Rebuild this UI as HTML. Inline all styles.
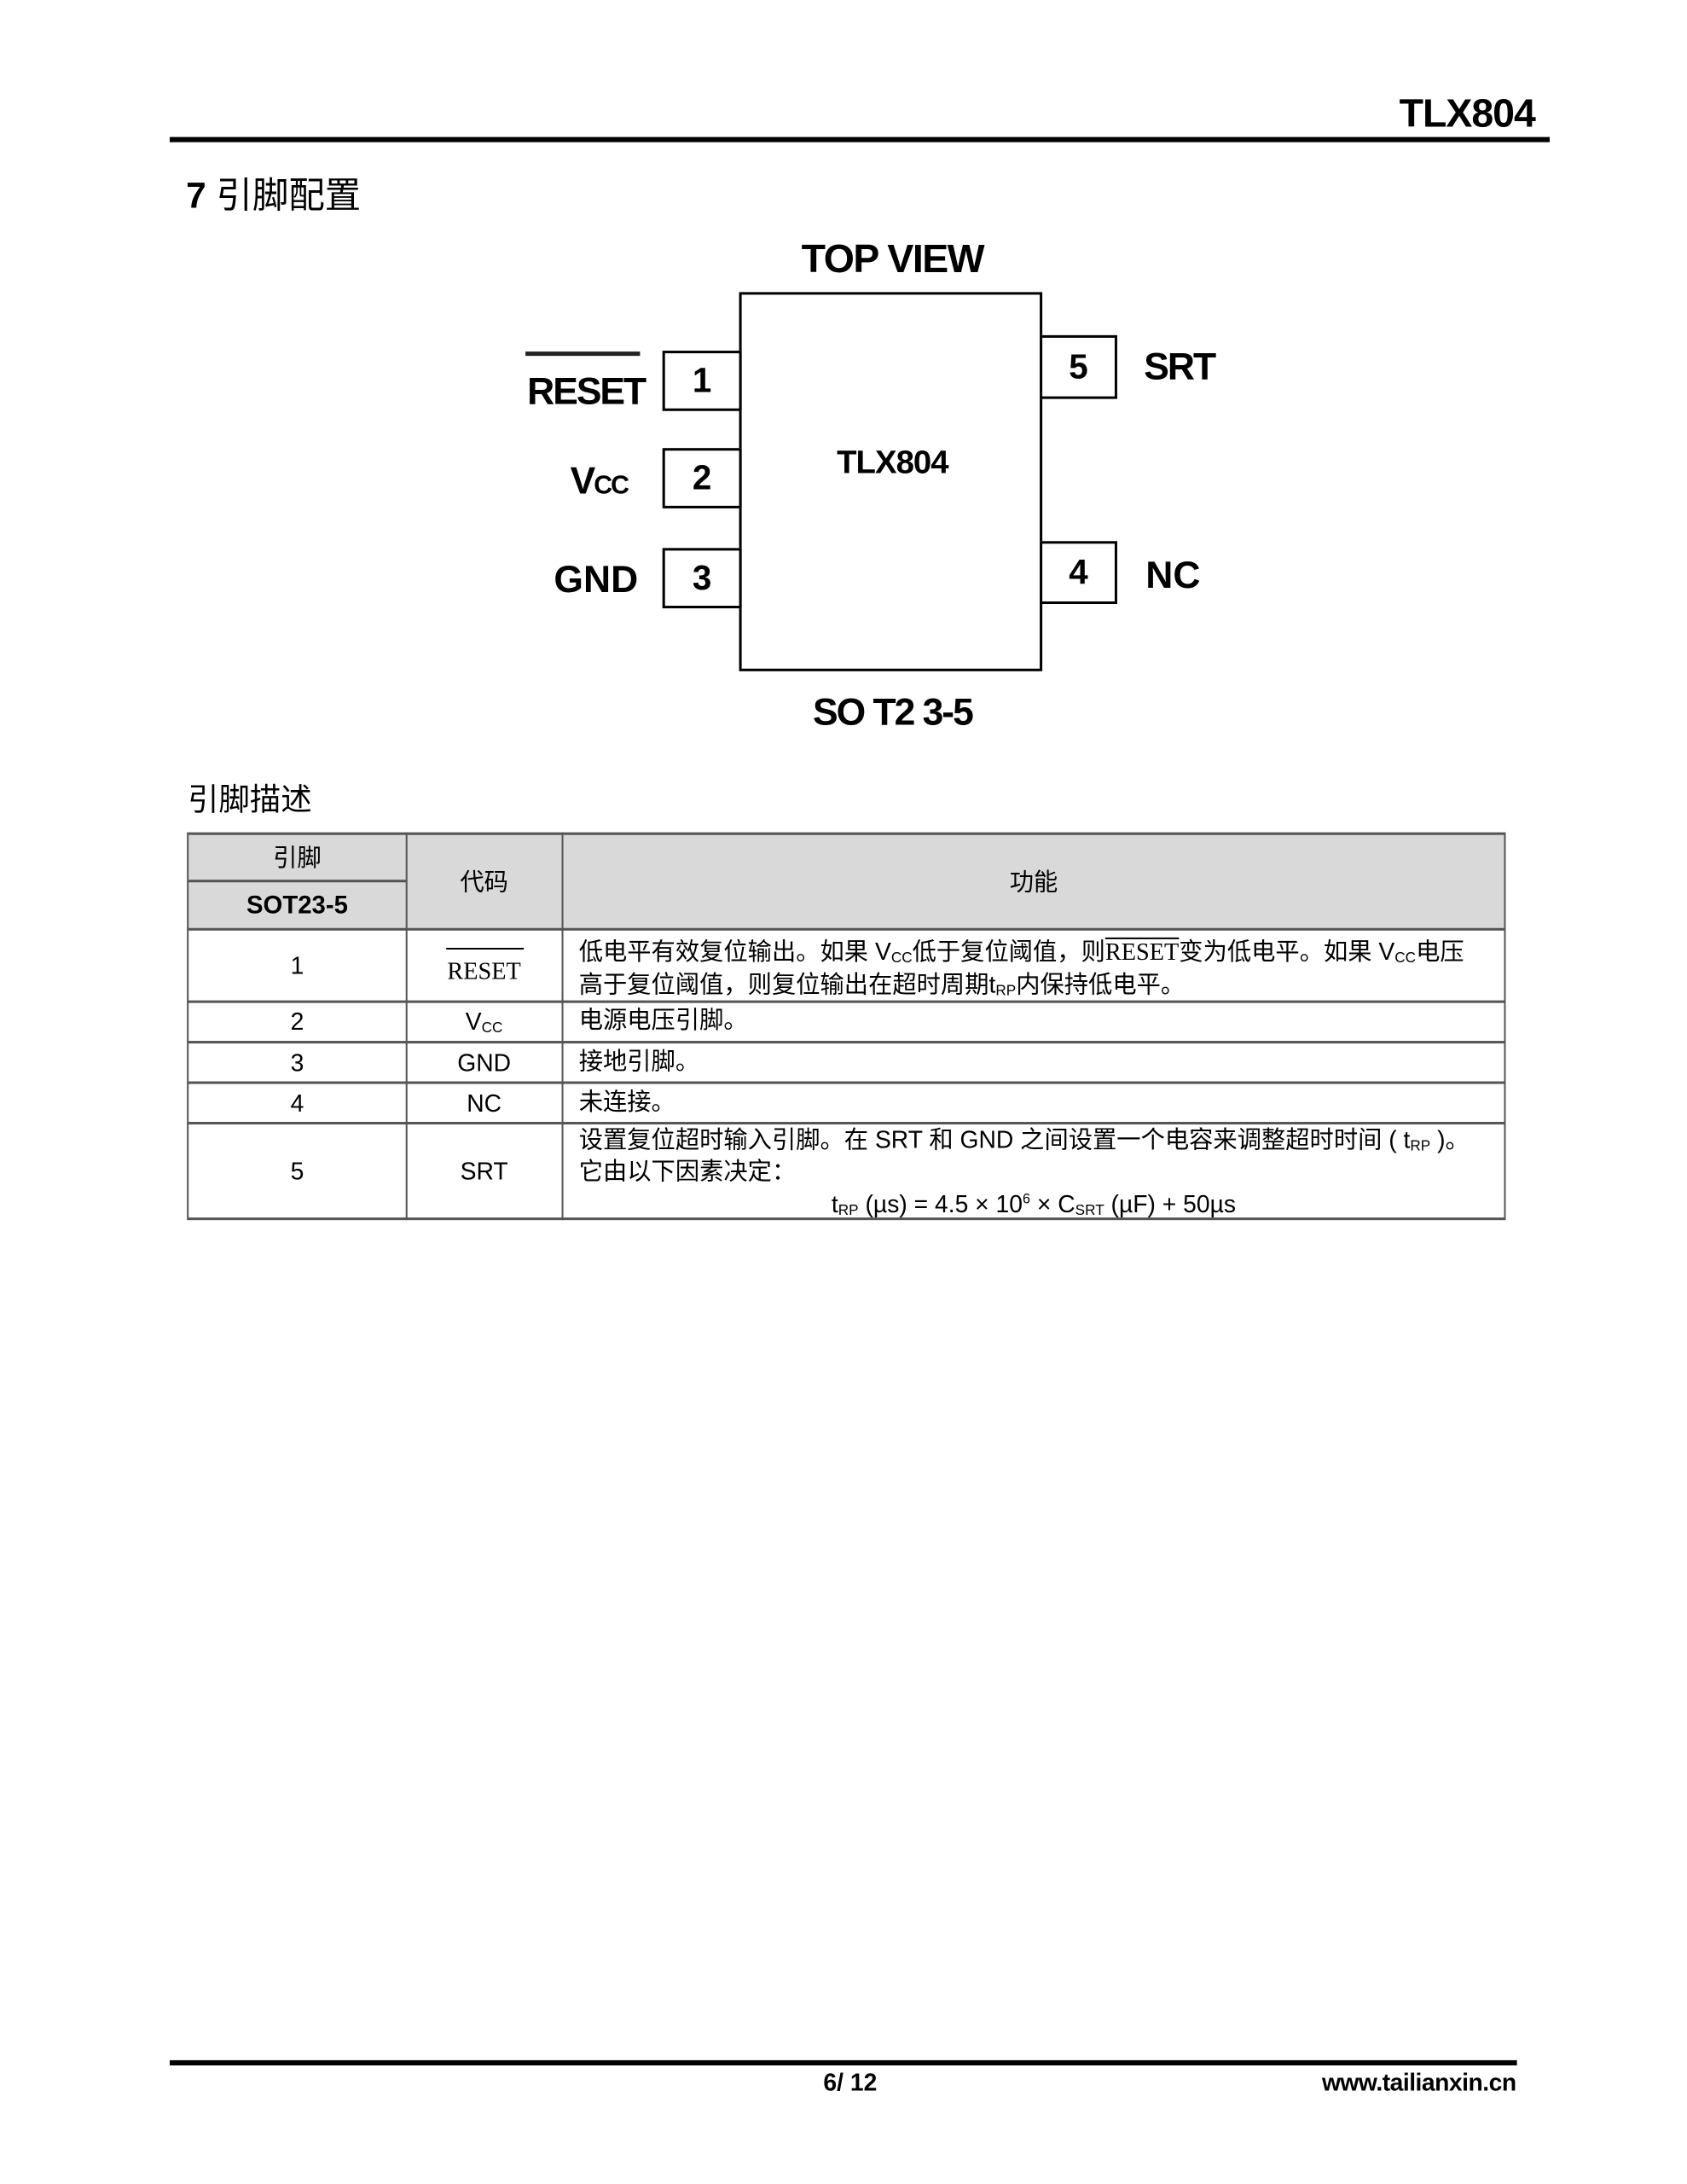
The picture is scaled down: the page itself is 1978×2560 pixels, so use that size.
<!DOCTYPE html>
<html><head><meta charset="utf-8"><style>
body{margin:0;background:#fff;}
#w{position:relative;width:1978px;height:2560px;overflow:hidden;background:#fff;}
#p{position:absolute;left:0;top:0;width:1978px;height:2560px;transform:scale(1.01);transform-origin:0 0;font-family:"Liberation Sans","Noto Sans CJK SC",sans-serif;color:#000;}
.a{position:absolute;white-space:nowrap;}
.b{position:absolute;border:3px solid #000;box-sizing:border-box;background:#fff;}
.pn{font-weight:bold;font-size:40px;display:flex;align-items:center;justify-content:center;}
.lbl{font-weight:bold;font-size:44px;letter-spacing:-2px;line-height:1;}
.tl{position:absolute;background:#555;}
.tx{font-size:28px;line-height:1;font-family:"Liberation Sans","Noto Sans CJK SC",sans-serif;}
.c{transform:translateX(-50%);}
sub{font-size:17px;vertical-align:-3px;}
</style></head><body><div id="w"><div id="p">
<div class="a" style="right:196px;top:108px;font-weight:bold;font-size:46px;letter-spacing:-1px;line-height:1;">TLX804</div>
<div class="a" style="left:197px;top:159px;width:1602px;height:6px;background:#000"></div>
<div class="a" style="left:216px;top:206px;font-size:42px;line-height:1;"><b>7</b> 引脚配置</div>

<div class="a lbl c" style="left:1036px;top:277px;font-size:46px;letter-spacing:-1.5px;">TOP VIEW</div>
<div class="b" style="left:858px;top:339px;width:352px;height:440px;"></div>
<div class="b pn" style="left:769px;top:407px;width:92px;height:70px;">1</div>
<div class="b pn" style="left:769px;top:520px;width:92px;height:70px;">2</div>
<div class="b pn" style="left:769px;top:636px;width:92px;height:70px;">3</div>
<div class="b pn" style="left:1207px;top:389px;width:90px;height:74px;">5</div>
<div class="b pn" style="left:1207px;top:628px;width:90px;height:73px;">4</div>
<div class="a" style="left:610px;top:408px;width:133px;height:5px;background:#222"></div>
<div class="a lbl" style="left:612px;top:433px;">RESET</div>
<div class="a lbl" style="left:662px;top:537px;">V<span style="font-size:30px;">CC</span></div>
<div class="a lbl" style="left:643px;top:651px;letter-spacing:0;">GND</div>
<div class="a lbl" style="left:1328px;top:404px;">SRT</div>
<div class="a lbl" style="left:1330px;top:646px;letter-spacing:0;">NC</div>
<div class="a lbl c" style="left:1036px;top:518px;font-size:38px;letter-spacing:-1px;">TLX804</div>
<div class="a lbl c" style="left:1036px;top:805px;">SO T2 3-5</div>

<div class="a" style="left:218px;top:910px;font-size:36px;line-height:1;">引脚描述</div>

<div class="a" style="left:218px;top:966px;width:1529px;height:112px;background:#d9d9d9"></div>
<div class="tl" style="left:218px;top:966px;width:1529px;height:3px"></div>
<div class="tl" style="left:218px;top:1021px;width:254px;height:3px"></div>
<div class="tl" style="left:218px;top:1077px;width:1529px;height:3px"></div>
<div class="tl" style="left:218px;top:1161px;width:1529px;height:3px"></div>
<div class="tl" style="left:218px;top:1208px;width:1529px;height:3px"></div>
<div class="tl" style="left:218px;top:1255px;width:1529px;height:3px"></div>
<div class="tl" style="left:218px;top:1302px;width:1529px;height:3px"></div>
<div class="tl" style="left:218px;top:1413px;width:1529px;height:3px"></div>
<div class="tl" style="left:217px;top:966px;width:2px;height:450px"></div>
<div class="tl" style="left:471px;top:966px;width:2px;height:450px"></div>
<div class="tl" style="left:652px;top:966px;width:2px;height:450px"></div>
<div class="tl" style="left:1746px;top:966px;width:2px;height:450px"></div>

<div class="a tx c" style="left:345px;top:982px;">引脚</div>
<div class="a tx c" style="left:345px;top:1037px;font-weight:bold;font-size:29px;">SOT23-5</div>
<div class="a tx c" style="left:562px;top:1010px;">代码</div>
<div class="a tx c" style="left:1200px;top:1010px;">功能</div>

<div class="a tx c" style="left:345px;top:1107px;">1</div>
<div class="a" style="left:518px;top:1100px;width:90px;height:2px;background:#000"></div>
<div class="a tx c" style="left:562px;top:1114px;font-family:'Liberation Serif',serif;">RESET</div>
<div class="a tx" style="left:672px;top:1091px;">低电平有效复位输出。如果 V<sub>CC</sub>低于复位阈值，则<span style="text-decoration:overline;font-family:'Liberation Serif',serif;">RESET</span>变为低电平。如果 V<sub>CC</sub>电压</div>
<div class="a tx" style="left:672px;top:1129px;">高于复位阈值，则复位输出在超时周期t<sub>RP</sub>内保持低电平。</div>

<div class="a tx c" style="left:345px;top:1172px;">2</div>
<div class="a tx c" style="left:562px;top:1172px;">V<sub>CC</sub></div>
<div class="a tx" style="left:672px;top:1170px;">电源电压引脚。</div>
<div class="a tx c" style="left:345px;top:1220px;">3</div>
<div class="a tx c" style="left:562px;top:1220px;">GND</div>
<div class="a tx" style="left:672px;top:1218px;">接地引脚。</div>
<div class="a tx c" style="left:345px;top:1267px;">4</div>
<div class="a tx c" style="left:562px;top:1267px;">NC</div>
<div class="a tx" style="left:672px;top:1265px;">未连接。</div>
<div class="a tx c" style="left:345px;top:1346px;">5</div>
<div class="a tx c" style="left:562px;top:1346px;">SRT</div>
<div class="a tx" style="left:672px;top:1309px;">设置复位超时输入引脚。在 SRT 和 GND 之间设置一个电容来调整超时时间 ( t<sub>RP</sub> )。</div>
<div class="a tx" style="left:672px;top:1346px;">它由以下因素决定：</div>
<div class="a tx c" style="left:1200px;top:1384px;">t<sub>RP</sub> (µs) = 4.5 × 10<sup style="font-size:16px">6</sup> × C<sub>SRT</sub> (µF) + 50µs</div>

<div class="a" style="left:197px;top:2391px;width:1564px;height:6px;background:#000"></div>
<div class="a c" style="left:987px;top:2403px;font-weight:bold;font-size:28px;line-height:1;">6/ 12</div>
<div class="a" style="right:218px;top:2403px;font-weight:bold;font-size:28px;line-height:1;letter-spacing:-0.5px;">www.tailianxin.cn</div>
</div></div></body></html>
